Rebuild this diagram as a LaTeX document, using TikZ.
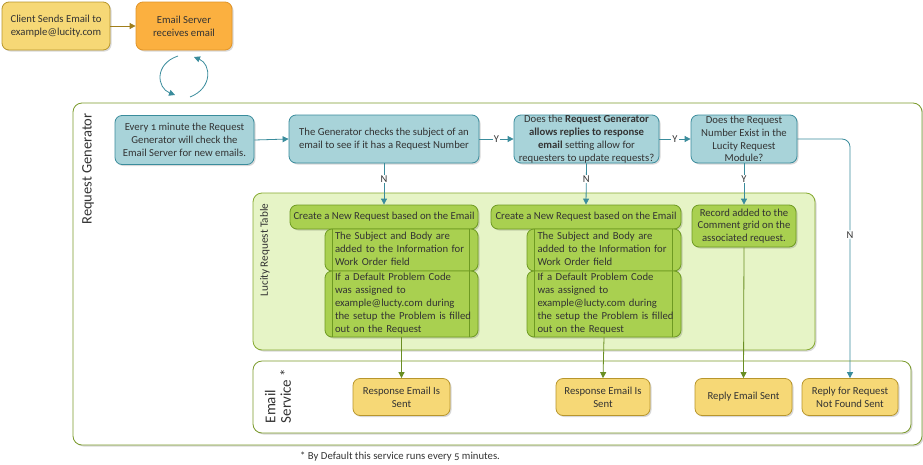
\documentclass[tikz,border=0pt]{standalone}
\usepackage{fontspec}
\setmainfont{Carlito}[Numbers=OldStyle]
\usetikzlibrary{arrows.meta,shadows}
\definecolor{txt}{HTML}{333333}
\definecolor{tealF}{HTML}{A8D3D9}
\definecolor{tealD}{HTML}{3A8C9C}
\definecolor{panelD}{HTML}{7A9A2A}
\definecolor{ltF}{HTML}{E6F4C6}
\definecolor{ltD}{HTML}{86AA30}
\definecolor{grF}{HTML}{A9D050}
\definecolor{grD}{HTML}{6E9A22}
\definecolor{grA}{HTML}{6A8E23}
\definecolor{yeF}{HTML}{F6D876}
\definecolor{yeD}{HTML}{B8962C}
\definecolor{orF}{HTML}{FBB040}
\definecolor{orD}{HTML}{E09428}
\definecolor{goA}{HTML}{A07E1C}
\newcommand{\sbl}[1]{\begin{tabular}{@{}l@{}}#1\end{tabular}}
\begin{document}
\begin{tikzpicture}[x=1pt,y=-1pt,
  font=\fontsize{10.7}{12.8}\selectfont, text=txt,
  shad/.style={drop shadow={shadow xshift=1.5pt,shadow yshift=-1.5pt,fill=black,opacity=0.15}},
  box/.style={draw, rounded corners=7pt, line width=0.8pt, align=center, inner sep=1pt, shad},
  tealbox/.style={box, fill=tealF, draw=tealD},
  greenbox/.style={box, fill=grF, draw=grD},
  subbox/.style={greenbox, align=left, text width=133pt, inner xsep=0pt,
    path picture={\draw[grD,line width=0.8pt]
      ([xshift=7pt]path picture bounding box.north west) -- ([xshift=7pt]path picture bounding box.south west)
      ([xshift=-9pt]path picture bounding box.north east) -- ([xshift=-9pt]path picture bounding box.south east);}},
  yelbox/.style={box, fill=yeF, draw=yeD},
  panel/.style={draw, rounded corners=9pt, line width=0.8pt, inner sep=0pt, shad},
  tarr/.style={draw=tealD, line width=0.8pt, -{Triangle[length=6pt,width=6pt]}, fill=none},
  garr/.style={draw=grA, line width=0.8pt, -{Triangle[length=6pt,width=6pt]}},
  lab/.style={fill=white, inner sep=1pt, font=\fontsize{10.5}{12}\selectfont},
]
\useasboundingbox (0,0) rectangle (923,464);
% top
\node[yelbox, minimum width=108pt, minimum height=48pt] (client) at (56,26) {Client Sends Email to\\example@lucity.com};
\node[box, fill=orF, draw=orD, minimum width=96pt, minimum height=48pt] (server) at (184,26) {Email Server\\receives email};
\draw[draw=goA, line width=0.8pt, -{Triangle[length=6pt,width=6pt]}] (client.east) -- (server.west);
% panels
\node[panel, fill=white, draw=panelD, minimum width=849pt, minimum height=342pt] (rg) at (497.5,274) {};
\node[rotate=90, font=\fontsize{14.5}{16}\selectfont] (rglab) at (88,169) {Request Generator};
\node[panel, fill=ltF, draw=ltD, minimum width=562pt, minimum height=157pt] (lt) at (534,271.5) {};
\node[rotate=90, font=\fontsize{11.2}{13}\selectfont] (ltlab) at (265,250) {Lucity Request Table};
\node[panel, fill=white, draw=panelD, minimum width=658pt, minimum height=72pt] (es) at (582,397) {};
\node[rotate=90, align=left, font=\fontsize{15}{15.5}\selectfont] (eslab) at (278,396) {Email\\Service *};
% loop arrows
\coordinate (l1) at (178,56); \coordinate (l2) at (175,95);
\coordinate (r1) at (190,97); \coordinate (r2) at (194,57);
\draw[tarr] (l1) .. controls (154,64) and (157,88) .. (l2);
\draw[tarr] (r1) .. controls (213,88) and (211,64) .. (r2);
% teal row
\node[tealbox, minimum width=139pt, minimum height=49pt] (g1) at (184.5,140) {Every 1 minute the Request\\Generator will check the\\Email Server for new emails.};
\node[tealbox, minimum width=190pt, minimum height=48pt] (g2) at (384,139) {The Generator checks the subject of an\\email to see if it has a Request Number};
\node[tealbox, minimum width=145pt, minimum height=48pt, inner sep=0pt] (g3) at (586.5,139) {Does the \textbf{Request Generator}\\\textbf{allows replies to response}\\\textbf{email} setting allow for\\requesters to update requests?};
\node[tealbox, minimum width=106pt, minimum height=48pt, inner sep=0pt] (g4) at (744,139) {Does the Request\\Number Exist in the\\Lucity Request\\Module?};
% green content
\node[greenbox, minimum width=188pt, minimum height=24pt] (c1) at (384,217) {Create a New Request based on the Email};
\node[subbox, minimum width=153pt, minimum height=42pt] (a1) at (401.5,250) {\sbl{The Subject and Body are\\added to the Information for\\Work Order field}};
\node[subbox, minimum width=153pt, minimum height=66pt] (a2) at (401.5,304) {\sbl{If a Default Problem Code\\was assigned to\\example@lucty.com during\\the setup the Problem is filled\\out on the Request}};
\node[greenbox, minimum width=190pt, minimum height=24pt] (c2) at (586,217) {Create a New Request based on the Email};
\node[subbox, minimum width=154pt, minimum height=42pt] (b1) at (604,250) {\sbl{The Subject and Body are\\added to the Information for\\Work Order field}};
\node[subbox, minimum width=154pt, minimum height=66pt] (b2) at (604,304) {\sbl{If a Default Problem Code\\was assigned to\\example@lucty.com during\\the setup the Problem is filled\\out on the Request}};
\node[greenbox, minimum width=104pt, minimum height=42pt] (rec) at (744,226) {Record added to the\\Comment grid on the\\associated request.};
% yellow bottom
\node[yelbox, minimum width=97pt, minimum height=37pt] (y1) at (401.5,397) {Response Email Is\\Sent};
\node[yelbox, minimum width=94pt, minimum height=37pt] (y2) at (603,397) {Response Email Is\\Sent};
\node[yelbox, minimum width=97pt, minimum height=37pt] (y3) at (743.5,397) {Reply Email Sent};
\node[yelbox, minimum width=96pt, minimum height=37pt] (y4) at (850,397) {Reply for Request\\Not Found Sent};
% connectors
\draw[tarr] (g1.east) -- (g2.west);
\draw[tarr] (g2.east) -- node[lab] {Y} (g3.west);
\draw[tarr] (g3.east) -- node[lab] {Y} (g4.west);
\draw[tarr] (g2.south) -- node[lab, pos=0.38] {N} (c1.north);
\draw[tarr] (g3.south) -- node[lab, pos=0.38] {N} (c2.north);
\draw[tarr] (g4.south) -- node[lab, pos=0.38] {Y} (rec.north);
\draw[tarr, rounded corners=8pt] (g4.east) -- (y4.north |- g4.east) -- node[lab, pos=0.4] {N} (y4.north);
\draw[garr] (a2.south) -- (y1.north);
\draw[garr] (b2.south) -- (y2.north);
\draw[garr] (rec.south) -- (y3.north);
% footnote
\node[anchor=west, inner sep=0pt] (foot) at (300,457) {* By Default this service runs every 5 minutes.};
\end{tikzpicture}
\end{document}
